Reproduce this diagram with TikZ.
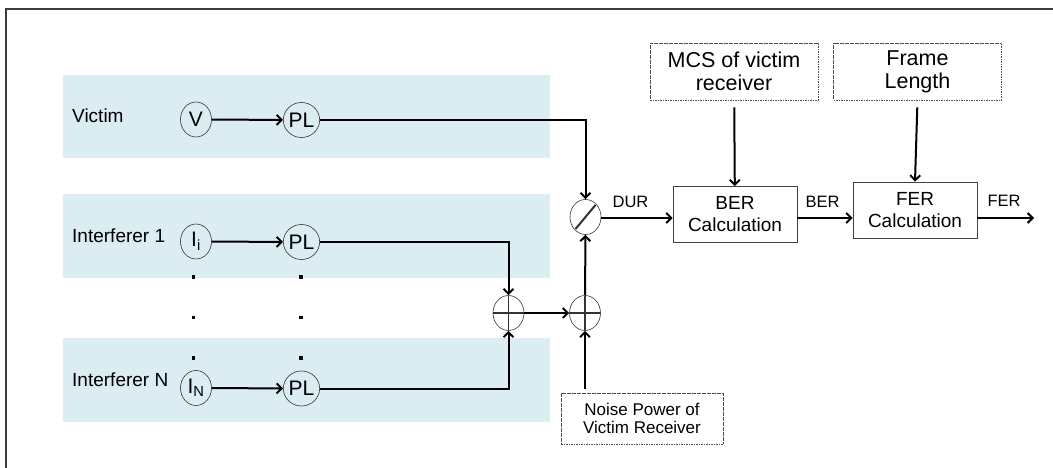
\documentclass[tikz,border=0pt]{standalone}
\usepackage{fontspec}
\setmainfont{Liberation Sans}
\usetikzlibrary{arrows.meta,shapes.geometric,positioning}
\definecolor{bandblue}{RGB}{219,236,242}
\definecolor{framegray}{RGB}{60,60,60}

\begin{document}
\begin{tikzpicture}[x=1pt, y=-1pt,
    band/.style={fill=bandblue, draw=none},
    rowlabel/.style={anchor=base west, inner sep=0pt, font=\fontsize{19}{19}\selectfont},
    sig/.style={ellipse, draw=black!80, line width=0.6pt, minimum width=31pt,
        minimum height=35pt, inner sep=0pt, font=\fontsize{21}{21}\selectfont},
    sumnode/.style={sig, path picture={
        \draw[line width=1.8pt] (path picture bounding box.west) -- (path picture bounding box.east);
        \draw[line width=1.8pt] (path picture bounding box.north) -- (path picture bounding box.south);}},
    divnode/.style={sig, path picture={
        \draw[line width=2pt] ([shift={(-10pt,-12pt)}]path picture bounding box.center)
            -- ([shift={(10pt,12pt)}]path picture bounding box.center);}},
    calcbox/.style={draw=black!75, line width=0.7pt, minimum width=124pt, minimum height=56pt,
        align=center, font=\fontsize{19}{22}\selectfont},
    parambox/.style={draw=black!70, line width=0.6pt, dash pattern=on 1.6pt off 0.9pt,
        minimum width=168pt, minimum height=57pt, align=center, font=\fontsize{21.5}{23}\selectfont},
    arrlabel/.style={font=\fontsize{16.5}{16.5}\selectfont, inner sep=0pt},
    arr/.style={line width=2pt, -{Straight Barb[length=5pt,width=10pt]}}
]
\useasboundingbox (0,0) rectangle (1053,468);
\draw[framegray, line width=1.2pt] (6,468) -- (6,9) -- (1053,9);

\fill[band] (63,75) rectangle (550,158);
\fill[band] (63,194) rectangle (550,278);
\fill[band] (63,338) rectangle (550,422);

\node[rowlabel] (lvictim) at (72,123) {Victim};
\node[rowlabel] (linter1) at (72,243) {Interferer 1};
\node[rowlabel] (lintern) at (72,386) {Interferer N};

\node[sig] (v) at (196,119.5) {V};
\node[sig] (plv) at (301.5,120) {PL};
\node[sig] (ii) at (196,241.5) {I\textsubscript{i}};
\node[sig] (pli) at (301.5,242) {PL};
\node[sig] (in) at (196,388) {I\textsubscript{N}};
\node[sig] (pln) at (301.5,388.5) {PL};

\foreach \y in {277,317.5,358} {
    \fill (193.3,\y) +(-1.6,-1.6) rectangle +(1.6,1.6);
    \fill (301,\y) +(-1.6,-1.6) rectangle +(1.6,1.6);
}

\node[sumnode] (sum1) at (508.5,313) {};
\node[sumnode] (sum2) at (585,313) {};
\node[divnode] (div) at (585.5,217) {};

\node[calcbox] (ber) at (735,214.5) {BER\\Calculation};
\node[calcbox] (fer) at (915,210) {FER\\Calculation};
\node[parambox] (mcs) at (734,71.5) {MCS of victim\\receiver};
\node[parambox] (frame) at (917.5,71.5) {Frame\\Length};
\node[parambox, minimum width=162pt, minimum height=51pt,
    font=\fontsize{17}{17.5}\selectfont] (noise) at (642,418.5) {Noise Power of\\Victim Receiver};

\node[arrlabel] (ldur) at (630.5,202) {DUR};
\node[arrlabel] (lber) at (822.5,202) {BER};
\node[arrlabel] (lfer) at (1004,201) {FER};
\coordinate (ferout) at (1034,218);

\draw[arr] (v) -- (plv);
\draw[arr] (ii) -- (pli);
\draw[arr] (in) -- (pln);
\draw[arr] (plv) -| (div);
\draw[arr] (pli) -| (sum1);
\draw[arr] (pln) -| (sum1);
\draw[arr] (sum1) -- (sum2);
\draw[arr, shorten <=4pt] (noise.north -| sum2) -- (sum2);
\draw[arr] (sum2) -- (div);
\draw[arr] (div.east |- 0,218) -- (ber.west |- 0,218);
\draw[arr] (ber.east |- 0,218) -- (fer.west |- 0,218);
\draw[arr] (fer.east |- ferout) -- (ferout);
\draw[arr, shorten <=7pt] (mcs) -- (ber);
\draw[arr, shorten <=7pt] (frame.south) -- (fer.north);
\end{tikzpicture}
\end{document}
